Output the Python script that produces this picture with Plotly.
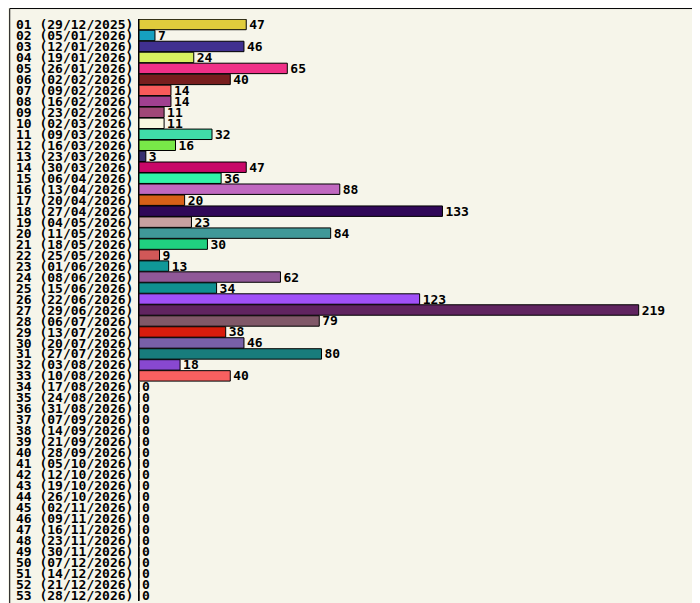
import plotly.graph_objects as go

weeks = ["01", "02", "03", "04", "05", "06", "07", "08", "09", "10", "11", "12", "13",
         "14", "15", "16", "17", "18", "19", "20", "21", "22", "23", "24", "25", "26",
         "27", "28", "29", "30", "31", "32", "33", "34", "35", "36", "37", "38", "39",
         "40", "41", "42", "43", "44", "45", "46", "47", "48", "49", "50", "51", "52", "53"]
dates = ["29/12/2025", "05/01/2026", "12/01/2026", "19/01/2026", "26/01/2026", "02/02/2026",
         "09/02/2026", "16/02/2026", "23/02/2026", "02/03/2026", "09/03/2026", "16/03/2026",
         "23/03/2026", "30/03/2026", "06/04/2026", "13/04/2026", "20/04/2026", "27/04/2026",
         "04/05/2026", "11/05/2026", "18/05/2026", "25/05/2026", "01/06/2026", "08/06/2026",
         "15/06/2026", "22/06/2026", "29/06/2026", "06/07/2026", "13/07/2026", "20/07/2026",
         "27/07/2026", "03/08/2026", "10/08/2026", "17/08/2026", "24/08/2026", "31/08/2026",
         "07/09/2026", "14/09/2026", "21/09/2026", "28/09/2026", "05/10/2026", "12/10/2026",
         "19/10/2026", "26/10/2026", "02/11/2026", "09/11/2026", "16/11/2026", "23/11/2026",
         "30/11/2026", "07/12/2026", "14/12/2026", "21/12/2026", "28/12/2026"]
values = [47, 7, 46, 24, 65, 40, 14, 14, 11, 11, 32, 16, 3, 47, 36, 88, 20, 133, 23, 84,
          30, 9, 13, 62, 34, 123, 219, 79, 38, 46, 80, 18, 40] + [0] * 20
colors = ["#e0cc3c", "#16a0c0", "#403090", "#d8f060", "#f03088", "#781e1e", "#f85a5a",
          "#a04090", "#a04878", "#f8f8e0", "#40dca8", "#78e848", "#383070", "#c80868",
          "#30f4a8", "#c068c0", "#d86018", "#300858", "#c8a0a0", "#409898", "#20d080",
          "#d05858", "#109898", "#905898", "#109090", "#a050f8", "#602460", "#805868",
          "#d81c0c", "#7860a8", "#187c7c", "#8848d0", "#f86060"] + ["#888888"] * 20

labels = [f"{w} ({d})" for w, d in zip(weeks, dates)]
FONT = dict(family="DejaVu Sans Mono", size=13, color="black", weight="bold")

fig = go.Figure(go.Bar(
    y=labels, x=values, orientation="h",
    marker=dict(color=colors, line=dict(color="black", width=1)),
    width=0.95,
    text=values, textposition="outside", textfont=FONT, cliponaxis=False,
    constraintext="none",
))

L, R = 130, 690
fig.update_layout(
    width=700, height=603,
    margin=dict(l=L, r=700 - R, t=11, b=8),
    paper_bgcolor="#f6f5ea", plot_bgcolor="#f6f5ea",
    showlegend=False, uniformtext=dict(minsize=13, mode="show"),
    xaxis=dict(range=[0, 245], visible=False),
    yaxis=dict(autorange="reversed", showgrid=False, tickfont=FONT,
               tickmode="array", tickvals=labels, ticktext=labels,
               showline=True, linecolor="black", linewidth=1, ticks="",
               ticklabelstandoff=2),
    shapes=[dict(type="rect", xref="paper", yref="paper",
                 x0=(0.5 - L) / (R - L), x1=(699.5 - L) / (R - L),
                 y0=-7.5 / 584, y1=1 + 10.5 / 584,
                 line=dict(color="black", width=1))],
)

fig.write_html("out.html")
